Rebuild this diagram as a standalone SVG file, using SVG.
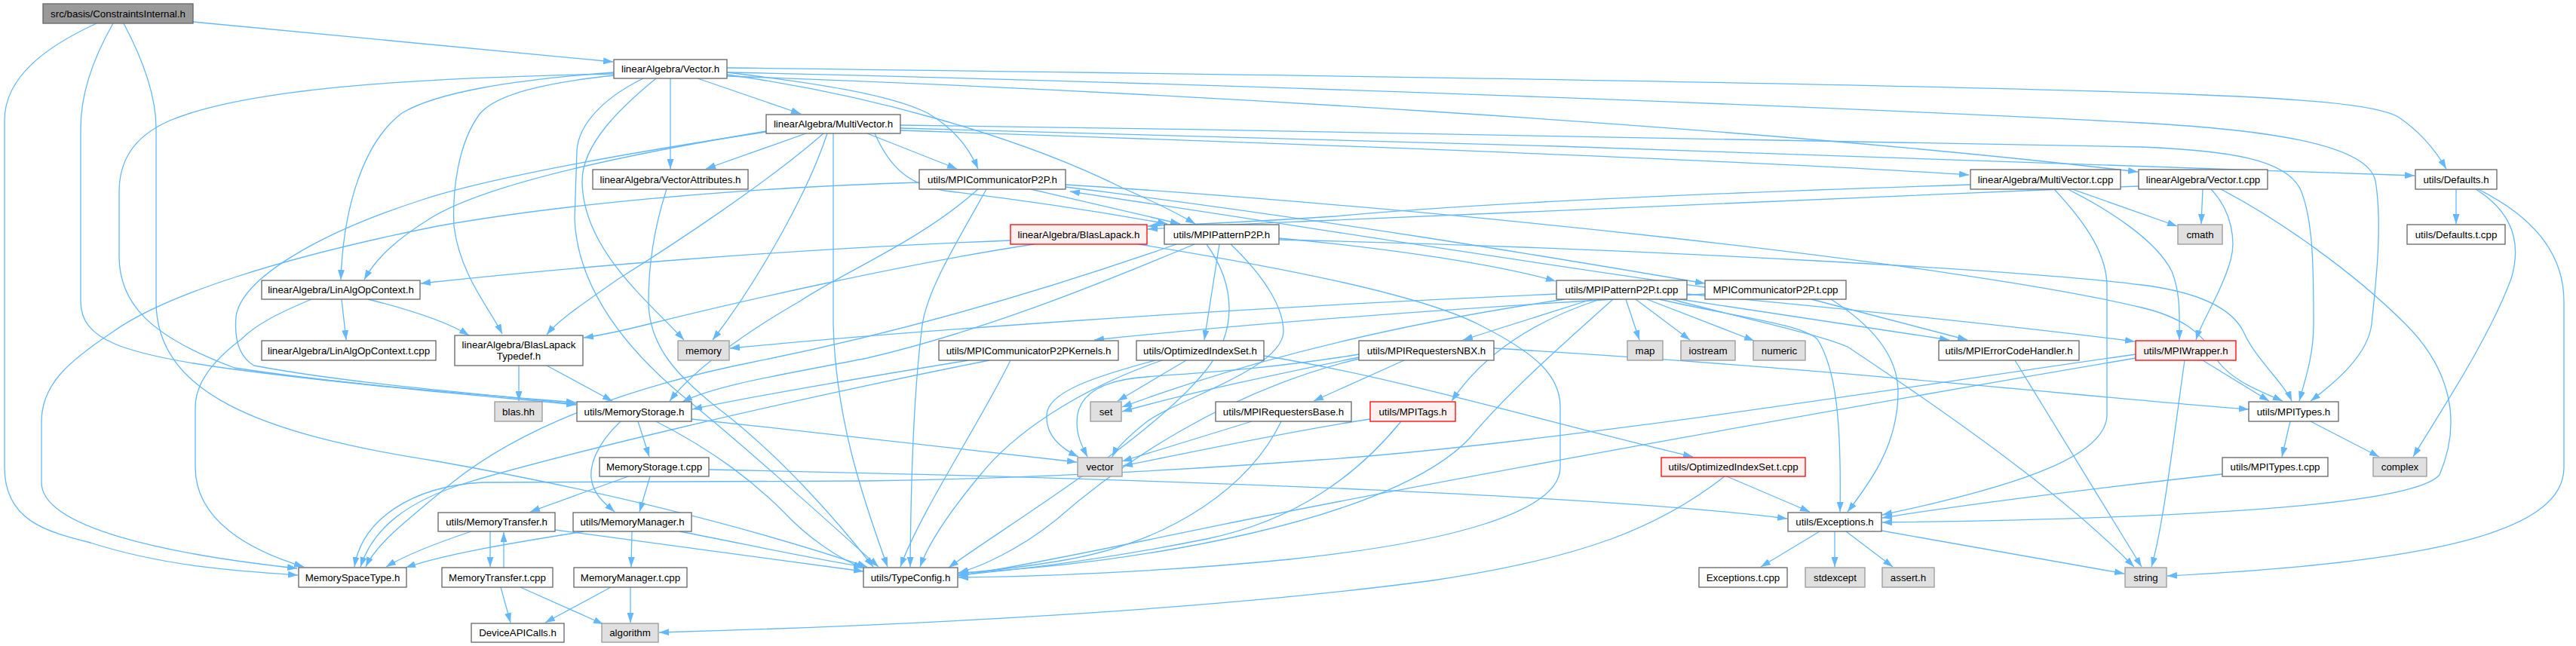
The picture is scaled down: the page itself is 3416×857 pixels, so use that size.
<svg xmlns="http://www.w3.org/2000/svg" width="3416" height="857" viewBox="0 0 3416 857">
<style>
.n rect{fill:#fff;stroke:#666;stroke-width:1.3}
.x rect{fill:#e0e0e0;stroke:#999;stroke-width:1.3}
.r rect{fill:#fff0f0;stroke:#f00;stroke-width:1.3}
.root rect{fill:#999;stroke:#666;stroke-width:1.3}
text{font-family:"Liberation Sans",Arial,Helvetica,sans-serif;font-size:13.3px;text-anchor:middle;fill:#000}
#edges path{fill:none;stroke:#63b8ff;stroke-width:1.3;marker-end:url(#a)}
</style>
<defs>
<marker id="a" viewBox="0 0 13 9" markerWidth="13" markerHeight="9" refX="13" refY="4.5" orient="auto" markerUnits="userSpaceOnUse"><path d="M0,0 L13,4.5 L0,9 z" fill="#63b8ff"/></marker>
</defs>
<rect width="3416" height="857" fill="#fff"/>
<g id="edges">
<path d="M256,29 L813,82"/>
<path d="M128,31 C65,60 6,100 6,160 L6,620 C6,690 60,705 120,720 C220,752 320,758 395,763"/>
<path d="M150,31 C122,80 107,125 107,170 L107,400 C107,450 160,470 311,490 C480,512 640,525 764,537"/>
<path d="M164,31 C190,80 207,130 207,170 L207,400 C207,520 340,575 580,612 C850,660 1030,712 1150,752"/>
<path d="M925,104 L1062,151"/>
<path d="M889,104 L889,224"/>
<path d="M964,96 C1080,110 1180,125 1230,150 C1265,170 1285,196 1297,224"/>
<path d="M964,99 C1150,125 1350,180 1490,250 C1540,272 1565,285 1585,297"/>
<path d="M814,96 C680,106 580,122 533,150 C480,190 455,280 452,371"/>
<path d="M814,100 C720,110 660,125 637,150 C605,192 600,260 602,300 C610,365 650,410 666,443"/>
<path d="M870,104 C826,140 772,190 772,240 C772,330 860,400 907,451"/>
<path d="M814,98 C560,103 330,116 225,160 C175,182 158,215 158,255 L158,340 C158,400 195,445 311,488 C470,512 640,524 764,534"/>
<path d="M853,104 C800,130 767,165 765,200 L762,290 C765,370 815,450 905,525 C985,590 1085,680 1165,752"/>
<path d="M964,90 C1600,98 2500,110 2900,125 C3050,131 3150,138 3180,155 C3210,175 3230,200 3244,224"/>
<path d="M964,96 C1600,110 2400,140 2840,163 C3000,172 3140,190 3150,240 C3160,300 3150,380 3145,430 C3140,470 3100,505 3064,532"/>
<path d="M1194,166 C1800,175 2500,185 2840,195 C2960,200 3030,212 3050,250 C3068,290 3068,360 3068,430 C3068,470 3058,500 3049,532"/>
<path d="M964,101 C1500,120 2300,165 2835,228"/>
<path d="M1194,170 C1800,185 2700,212 3202,233"/>
<path d="M1194,173 C1700,190 2300,212 2611,232"/>
<path d="M1069,177 L936,224"/>
<path d="M1150,177 L1269,224"/>
<path d="M1160,177 C1180,222 1205,247 1260,254 C1360,266 1470,283 1548,297"/>
<path d="M1016,174 C860,200 650,240 570,290 C530,315 500,340 483,371"/>
<path d="M1092,177 C1020,240 900,320 820,370 C770,405 740,425 725,444"/>
<path d="M1097,177 C1070,260 1000,380 945,451"/>
<path d="M1016,175 C850,200 650,235 560,265 C420,310 320,370 313,420 C310,455 320,475 337,485 C470,510 640,522 764,536"/>
<path d="M1105,177 L1105,430 C1108,550 1140,650 1177,752"/>
<path d="M884,251 C868,300 860,350 860,400 C860,460 900,500 950,540 C1030,600 1110,690 1158,752"/>
<path d="M1367,251 L1565,297"/>
<path d="M1219,242 C950,250 720,275 580,300 C380,340 220,390 150,440 C90,480 55,510 55,560 L55,640 C55,700 220,735 394,754"/>
<path d="M1297,251 C1220,320 1120,360 1060,400 C990,440 920,490 888,532"/>
<path d="M1308,251 C1270,320 1225,390 1222,440 C1212,520 1208,620 1207,752"/>
<path d="M1413,245 C1900,275 2600,350 2840,408 C2890,420 2920,440 2935,470 C2955,505 3000,520 3027,532"/>
<path d="M1413,248 C1750,290 2050,340 2261,376"/>
<path d="M2261,381 C2050,352 1750,304 1419,254"/>
<path d="M2262,390 C1900,410 1650,430 1451,451"/>
<path d="M2402,397 L2609,451"/>
<path d="M2428,397 C2480,430 2517,470 2517,520 C2517,590 2480,640 2450,679"/>
<path d="M2613,245 C2300,255 1950,270 1770,287 C1680,293 1600,297 1522,300"/>
<path d="M2748,251 L2887,300"/>
<path d="M2742,251 C2800,280 2860,320 2880,360 C2892,390 2890,420 2890,451"/>
<path d="M2724,251 C2770,300 2794,340 2794,380 L2794,550 C2794,600 2700,640 2496,683"/>
<path d="M2836,247 C2450,262 2050,278 1770,292 C1680,296 1600,299 1522,304"/>
<path d="M2921,251 L2919,297"/>
<path d="M2932,251 C2960,280 2965,320 2958,345 C2945,390 2920,425 2912,451"/>
<path d="M2945,251 C3020,290 3120,360 3190,430 C3250,490 3265,560 3235,630 C3200,670 2900,688 2496,693"/>
<path d="M3257,251 L3257,297"/>
<path d="M3283,251 C3330,280 3345,320 3330,370 C3300,450 3240,540 3200,606"/>
<path d="M3286,251 C3365,290 3400,340 3400,400 L3400,620 C3400,700 3250,745 2874,764"/>
<path d="M1340,319 C1050,330 750,355 558,376"/>
<path d="M1371,324 C1200,350 980,400 860,430 C820,440 795,445 774,448"/>
<path d="M1510,324 C1700,355 1880,390 1960,430 C2040,470 2069,500 2069,540 L2069,620 C2069,680 1920,720 1710,742 C1550,758 1380,765 1271,766"/>
<path d="M1696,316 C1850,330 1990,352 2063,373"/>
<path d="M1617,324 L1597,451"/>
<path d="M1560,324 C1400,380 1200,440 1000,480 C850,510 700,560 600,640 C540,690 500,720 485,752"/>
<path d="M1584,324 C1450,380 1300,440 1150,475 C1050,495 950,510 905,533"/>
<path d="M1600,324 C1640,380 1640,440 1600,490 C1530,580 1330,700 1258,753"/>
<path d="M1632,324 C1680,370 1702,410 1702,440 C1700,490 1560,530 1520,560 C1495,580 1480,595 1475,606"/>
<path d="M1696,318 C2200,330 2700,360 2840,378 C2920,388 2960,410 2975,440 C2990,475 3030,510 3039,532"/>
<path d="M2111,397 L1940,451"/>
<path d="M2156,397 L2174,451"/>
<path d="M2169,397 L2241,451"/>
<path d="M2184,397 L2326,452"/>
<path d="M2228,397 L2585,451"/>
<path d="M2237,390 C2450,410 2650,430 2831,453"/>
<path d="M2200,397 C2300,420 2390,430 2410,450 C2435,490 2442,560 2440,679"/>
<path d="M2217,397 C2300,420 2400,440 2450,460 C2600,560 2740,660 2830,752"/>
<path d="M2064,390 C1600,410 1200,440 968,462"/>
<path d="M2075,397 C1850,430 1650,480 1488,540"/>
<path d="M2122,397 C2020,430 1960,480 1925,532"/>
<path d="M2139,397 C2080,450 2000,520 1950,580 C1850,690 1500,750 1271,760"/>
<path d="M1676,472 C1850,500 2050,560 2245,606"/>
<path d="M1573,478 L1482,532"/>
<path d="M1532,478 C1450,500 1390,520 1388,550 C1386,580 1410,596 1430,606"/>
<path d="M1541,478 C1420,520 1340,580 1300,630 C1250,690 1228,730 1220,752"/>
<path d="M2290,632 L2400,679"/>
<path d="M2287,632 C2200,700 2100,740 1900,770 C1600,810 1200,830 874,839"/>
<path d="M1284,478 C1150,500 1000,525 918,543"/>
<path d="M1312,478 C1000,540 720,610 620,640 C540,665 495,700 478,752"/>
<path d="M1340,478 C1300,560 1220,680 1194,752"/>
<path d="M1862,478 L1742,532"/>
<path d="M1802,474 C1700,495 1580,520 1488,546"/>
<path d="M1802,470 C1680,490 1580,495 1520,500 C1450,505 1428,530 1428,560 C1428,580 1436,594 1442,606"/>
<path d="M1802,476 C1620,520 1480,620 1400,690 C1350,730 1300,752 1271,760"/>
<path d="M1981,462 C2450,490 2800,530 2982,543"/>
<path d="M1660,559 L1488,612"/>
<path d="M1699,559 C1660,640 1560,720 1400,745 C1340,755 1300,758 1271,761"/>
<path d="M1817,556 C1720,570 1580,600 1489,618"/>
<path d="M1858,559 C1800,630 1720,690 1600,715 C1450,745 1340,757 1271,763"/>
<path d="M2921,478 L3009,532"/>
<path d="M2897,478 C2880,600 2868,700 2853,752"/>
<path d="M2832,475 C2450,540 1950,630 1650,690 C1480,725 1350,752 1271,764"/>
<path d="M2832,470 C2550,510 2050,590 1750,610 C1550,625 1350,635 1150,638 L640,640 C545,645 480,690 470,752"/>
<path d="M2672,478 L2840,752"/>
<path d="M3037,559 L3026,606"/>
<path d="M3064,559 L3155,606"/>
<path d="M2947,629 C2800,645 2600,670 2496,687"/>
<path d="M2413,705 L2335,752"/>
<path d="M2433,705 L2433,752"/>
<path d="M2448,705 L2510,752"/>
<path d="M2495,704 L2817,761"/>
<path d="M688,485 L688,532"/>
<path d="M725,485 L812,532"/>
<path d="M846,559 L861,606"/>
<path d="M823,559 C790,590 780,620 785,640 C790,660 805,670 815,679"/>
<path d="M870,559 C950,600 1000,640 1040,680 C1070,712 1110,740 1145,754"/>
<path d="M917,556 C1100,575 1300,600 1428,613"/>
<path d="M833,632 L703,679"/>
<path d="M862,632 L848,679"/>
<path d="M940,623 C1600,636 2150,660 2370,688"/>
<path d="M650,705 L650,752"/>
<path d="M625,705 C580,720 540,735 512,752"/>
<path d="M736,703 C880,722 1030,742 1145,758"/>
<path d="M668,753 L668,706"/>
<path d="M664,779 L677,826"/>
<path d="M690,779 L800,828"/>
<path d="M838,705 L837,752"/>
<path d="M775,705 C680,720 590,735 538,753"/>
<path d="M901,705 C980,720 1070,740 1145,752"/>
<path d="M810,779 L723,826"/>
<path d="M836,779 L836,826"/>
<path d="M453,397 L459,451"/>
<path d="M488,397 C540,410 590,425 622,445"/>
<path d="M413,397 C370,415 340,430 320,450 C280,480 259,510 259,540 L259,620 C259,690 330,730 403,752"/>
</g>
<g id="n_ci" class="root"><rect x="57" y="5" width="199" height="26"/><text x="156.5" y="22.6">src/basis/ConstraintsInternal.h</text></g>
<g id="n_vec" class="n"><rect x="814" y="79" width="150" height="25"/><text x="889" y="96">linearAlgebra/Vector.h</text></g>
<g id="n_mv" class="n"><rect x="1016" y="152" width="178" height="25"/><text x="1105" y="169">linearAlgebra/MultiVector.h</text></g>
<g id="n_va" class="n"><rect x="786" y="225" width="206" height="26"/><text x="889" y="242.5">linearAlgebra/VectorAttributes.h</text></g>
<g id="n_mc" class="n"><rect x="1219" y="225" width="194" height="26"/><text x="1316" y="242.5">utils/MPICommunicatorP2P.h</text></g>
<g id="n_mvt" class="n"><rect x="2613" y="225" width="199" height="26"/><text x="2712.5" y="242.5">linearAlgebra/MultiVector.t.cpp</text></g>
<g id="n_vt" class="n"><rect x="2836" y="225" width="171" height="26"/><text x="2921.5" y="242.5">linearAlgebra/Vector.t.cpp</text></g>
<g id="n_def" class="n"><rect x="3203" y="225" width="108" height="26"/><text x="3257" y="242.5">utils/Defaults.h</text></g>
<g id="n_bl" class="r"><rect x="1340" y="298" width="181" height="26"/><text x="1430.5" y="315.5">linearAlgebra/BlasLapack.h</text></g>
<g id="n_pp" class="n"><rect x="1544" y="298" width="152" height="26"/><text x="1620" y="315.5">utils/MPIPatternP2P.h</text></g>
<g id="n_cmath" class="x"><rect x="2888" y="298" width="59" height="26"/><text x="2917.5" y="315.5">cmath</text></g>
<g id="n_deft" class="n"><rect x="3192" y="298" width="130" height="26"/><text x="3257" y="315.5">utils/Defaults.t.cpp</text></g>
<g id="n_lao" class="n"><rect x="347" y="372" width="210" height="25"/><text x="452" y="389">linearAlgebra/LinAlgOpContext.h</text></g>
<g id="n_ppt" class="n"><rect x="2064" y="372" width="173" height="25"/><text x="2150.5" y="389">utils/MPIPatternP2P.t.cpp</text></g>
<g id="n_mct" class="n"><rect x="2261" y="372" width="187" height="25"/><text x="2354.5" y="389">MPICommunicatorP2P.t.cpp</text></g>
<g id="n_laot" class="n"><rect x="347" y="452" width="231" height="26"/><text x="462.5" y="469.5">linearAlgebra/LinAlgOpContext.t.cpp</text></g>
<g id="n_blt" class="n"><rect x="603" y="445" width="170" height="40"/><text x="688" y="461.5">linearAlgebra/BlasLapack</text><text x="688" y="476.5">Typedef.h</text></g>
<g id="n_mem" class="x"><rect x="899" y="452" width="68" height="26"/><text x="933" y="469.5">memory</text></g>
<g id="n_mck" class="n"><rect x="1245" y="452" width="238" height="26"/><text x="1364" y="469.5">utils/MPICommunicatorP2PKernels.h</text></g>
<g id="n_ois" class="n"><rect x="1507" y="452" width="169" height="26"/><text x="1591.5" y="469.5">utils/OptimizedIndexSet.h</text></g>
<g id="n_nbx" class="n"><rect x="1802" y="452" width="179" height="26"/><text x="1891.5" y="469.5">utils/MPIRequestersNBX.h</text></g>
<g id="n_map" class="x"><rect x="2158" y="452" width="47" height="26"/><text x="2181.5" y="469.5">map</text></g>
<g id="n_ios" class="x"><rect x="2229" y="452" width="72" height="26"/><text x="2265" y="469.5">iostream</text></g>
<g id="n_num" class="x"><rect x="2325" y="452" width="69" height="26"/><text x="2359.5" y="469.5">numeric</text></g>
<g id="n_err" class="n"><rect x="2571" y="452" width="186" height="26"/><text x="2664" y="469.5">utils/MPIErrorCodeHandler.h</text></g>
<g id="n_wrap" class="r"><rect x="2832" y="452" width="133" height="26"/><text x="2898.5" y="469.5">utils/MPIWrapper.h</text></g>
<g id="n_blas" class="x"><rect x="656" y="533" width="63" height="26"/><text x="687.5" y="550.5">blas.hh</text></g>
<g id="n_ms" class="n"><rect x="765" y="533" width="152" height="26"/><text x="841" y="550.5">utils/MemoryStorage.h</text></g>
<g id="n_set" class="x"><rect x="1446" y="533" width="41" height="26"/><text x="1466.5" y="550.5">set</text></g>
<g id="n_rb" class="n"><rect x="1612" y="533" width="180" height="26"/><text x="1702" y="550.5">utils/MPIRequestersBase.h</text></g>
<g id="n_tags" class="r"><rect x="1817" y="533" width="113" height="26"/><text x="1873.5" y="550.5">utils/MPITags.h</text></g>
<g id="n_mt" class="n"><rect x="2982" y="533" width="119" height="26"/><text x="3041.5" y="550.5">utils/MPITypes.h</text></g>
<g id="n_mst" class="n"><rect x="795" y="607" width="145" height="25"/><text x="867.5" y="624">MemoryStorage.t.cpp</text></g>
<g id="n_vector" class="x"><rect x="1429" y="607" width="59" height="25"/><text x="1458.5" y="624">vector</text></g>
<g id="n_oist" class="r"><rect x="2203" y="607" width="191" height="25"/><text x="2298.5" y="624">utils/OptimizedIndexSet.t.cpp</text></g>
<g id="n_mtt" class="n"><rect x="2947" y="607" width="140" height="25"/><text x="3017" y="624">utils/MPITypes.t.cpp</text></g>
<g id="n_cplx" class="x"><rect x="3147" y="607" width="71" height="25"/><text x="3182.5" y="624">complex</text></g>
<g id="n_mtr" class="n"><rect x="581" y="680" width="155" height="25"/><text x="658.5" y="697">utils/MemoryTransfer.h</text></g>
<g id="n_mm" class="n"><rect x="760" y="680" width="157" height="25"/><text x="838.5" y="697">utils/MemoryManager.h</text></g>
<g id="n_exc" class="n"><rect x="2371" y="680" width="124" height="25"/><text x="2433" y="697">utils/Exceptions.h</text></g>
<g id="n_mspace" class="n"><rect x="396" y="753" width="143" height="26"/><text x="467.5" y="770.5">MemorySpaceType.h</text></g>
<g id="n_mtrt" class="n"><rect x="586" y="753" width="147" height="26"/><text x="659.5" y="770.5">MemoryTransfer.t.cpp</text></g>
<g id="n_mmt" class="n"><rect x="761" y="753" width="150" height="26"/><text x="836" y="770.5">MemoryManager.t.cpp</text></g>
<g id="n_tc" class="n"><rect x="1145" y="753" width="125" height="26"/><text x="1207.5" y="770.5">utils/TypeConfig.h</text></g>
<g id="n_exct" class="n"><rect x="2253" y="753" width="117" height="26"/><text x="2311.5" y="770.5">Exceptions.t.cpp</text></g>
<g id="n_stde" class="x"><rect x="2394" y="753" width="79" height="26"/><text x="2433.5" y="770.5">stdexcept</text></g>
<g id="n_assert" class="x"><rect x="2496" y="753" width="69" height="26"/><text x="2530.5" y="770.5">assert.h</text></g>
<g id="n_str" class="x"><rect x="2818" y="753" width="55" height="26"/><text x="2845.5" y="770.5">string</text></g>
<g id="n_dev" class="n"><rect x="625" y="827" width="123" height="25"/><text x="686.5" y="844">DeviceAPICalls.h</text></g>
<g id="n_alg" class="x"><rect x="798" y="827" width="75" height="25"/><text x="835.5" y="844">algorithm</text></g>
</svg>
